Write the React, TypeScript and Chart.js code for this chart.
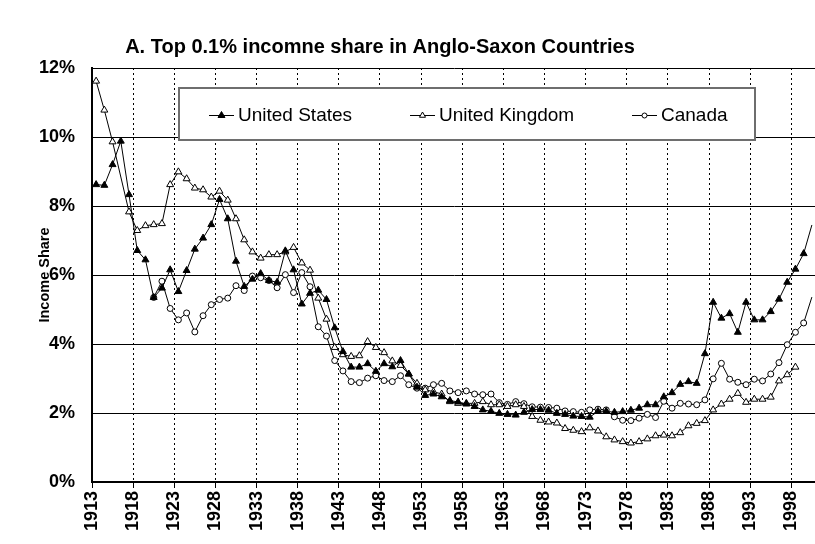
import { useEffect, useRef } from 'react';
import { Chart, registerables } from 'chart.js';

Chart.register(...registerables);

const TITLE = 'A. Top 0.1% incomne share in Anglo-Saxon Countries';
const Y_TITLE = 'Income Share';

const years = [
  1913, 1914, 1915, 1916, 1917, 1918, 1919, 1920, 1921, 1922,
  1923, 1924, 1925, 1926, 1927, 1928, 1929, 1930, 1931, 1932,
  1933, 1934, 1935, 1936, 1937, 1938, 1939, 1940, 1941, 1942,
  1943, 1944, 1945, 1946, 1947, 1948, 1949, 1950, 1951, 1952,
  1953, 1954, 1955, 1956, 1957, 1958, 1959, 1960, 1961, 1962,
  1963, 1964, 1965, 1966, 1967, 1968, 1969, 1970, 1971, 1972,
  1973, 1974, 1975, 1976, 1977, 1978, 1979, 1980, 1981, 1982,
  1983, 1984, 1985, 1986, 1987, 1988, 1989, 1990, 1991, 1992,
  1993, 1994, 1995, 1996, 1997, 1998, 1999, 2000,
];

const tickYears = [
  1913, 1918, 1923, 1928, 1933, 1938, 1943, 1948, 1953, 1958,
  1963, 1968, 1973, 1978, 1983, 1988, 1993, 1998,
];

const yTicks = [0, 2, 4, 6, 8, 10, 12];

const usShare = [
  8.62, 8.60, 9.20, 9.88, 8.33, 6.71, 6.44, 5.35, 5.62, 6.15,
  5.52, 6.13, 6.75, 7.07, 7.46, 8.19, 7.63, 6.40, 5.67, 5.88,
  6.04, 5.84, 5.79, 6.70, 6.15, 5.16, 5.47, 5.56, 5.29, 4.47,
  3.78, 3.33, 3.33, 3.43, 3.21, 3.43, 3.34, 3.52, 3.13, 2.75,
  2.51, 2.55, 2.47, 2.36, 2.32, 2.26, 2.19, 2.09, 2.05, 1.99,
  1.96, 1.94, 2.02, 2.10, 2.10, 2.08, 1.99, 1.96, 1.91, 1.90,
  1.88, 2.05, 2.05, 2.02, 2.04, 2.08, 2.14, 2.24, 2.24, 2.47,
  2.59, 2.83, 2.91, 2.86, 3.72, 5.21, 4.75, 4.88, 4.34, 5.21,
  4.70, 4.70, 4.94, 5.30, 5.79, 6.17, 6.62, 7.45,
];

const ukShare = [
  11.62, 10.78, 9.86, null, 7.83, 7.29, 7.43, 7.46, 7.49, 8.62,
  8.99, 8.79, 8.52, 8.47, 8.26, 8.43, 8.17, 7.63, 7.02, 6.67,
  6.49, 6.59, 6.59, 6.67, 6.80, 6.35, 6.14, 5.33, 4.72, 3.90,
  3.69, 3.64, 3.66, 4.07, 3.90, 3.75, 3.51, 3.38, 3.13, 2.86,
  2.67, 2.62, 2.55, 2.33, 2.28, 2.28, 2.28, 2.33, 2.24, 2.24,
  2.19, 2.24, 2.19, 1.90, 1.79, 1.74, 1.71, 1.55, 1.50, 1.46,
  1.57, 1.48, 1.31, 1.22, 1.17, 1.13, 1.17, 1.25, 1.34, 1.36,
  1.34, 1.43, 1.63, 1.70, 1.78, 2.09, 2.26, 2.40, 2.57, 2.31,
  2.40, 2.40, 2.46, 2.93, 3.11, 3.33, null, null,
];

const caShare = [
  null, null, null, null, null, null, null, 5.35, 5.82, 5.03,
  4.70, 4.90, 4.35, 4.82, 5.14, 5.29, 5.33, 5.69, 5.55, 5.97,
  5.92, 5.84, 5.63, 6.01, 5.49, 6.07, 5.66, 4.50, 4.23, 3.52,
  3.22, 2.91, 2.88, 3.01, 3.08, 2.94, 2.91, 3.08, 2.82, 2.72,
  2.72, 2.82, 2.86, 2.64, 2.59, 2.64, 2.55, 2.53, 2.55, 2.30,
  2.25, 2.33, 2.27, 2.18, 2.17, 2.16, 2.14, 2.06, 2.04, 2.02,
  2.09, 2.11, 2.09, 1.89, 1.79, 1.78, 1.85, 1.96, 1.87, 2.34,
  2.14, 2.28, 2.26, 2.24, 2.38, 2.99, 3.44, 2.98, 2.89, 2.82,
  2.98, 2.93, 3.13, 3.46, 3.98, 4.34, 4.61, 5.36,
];

const seriesLabels = ['United States', 'United Kingdom', 'Canada'];

const FONT = '"Liberation Sans", Arial, Helvetica, sans-serif';

function toPoints(values: (number | null)[]) {
  return years.map((yr, i) => ({ x: yr, y: values[i] }));
}

function drawMarker(ctx: CanvasRenderingContext2D, kind: string, x: number, y: number, r: number, fill: string) {
  ctx.beginPath();
  if (kind === 'triangle') {
    for (let k = 0; k < 3; k++) {
      const a = (k * 2 * Math.PI) / 3;
      const px = x + Math.sin(a) * r;
      const py = y - Math.cos(a) * r;
      if (k === 0) ctx.moveTo(px, py);
      else ctx.lineTo(px, py);
    }
    ctx.closePath();
  } else {
    ctx.arc(x, y, r, 0, Math.PI * 2);
  }
  ctx.fillStyle = fill;
  ctx.fill();
  ctx.strokeStyle = '#000';
  ctx.lineWidth = 1;
  ctx.stroke();
}

const decorPlugin = {
  id: 'decor',
  afterDraw(chart: any) {
    const ctx: CanvasRenderingContext2D = chart.ctx;
    ctx.save();
    ctx.fillStyle = '#000';
    ctx.textAlign = 'center';
    ctx.textBaseline = 'middle';
    ctx.font = `bold 20px ${FONT}`;
    ctx.fillText(TITLE, 380, 47);

    ctx.save();
    ctx.translate(45, 275);
    ctx.rotate(-Math.PI / 2);
    ctx.font = `bold 14.5px ${FONT}`;
    ctx.fillText(Y_TITLE, 0, 0);
    ctx.restore();

    // legend box
    ctx.fillStyle = '#fff';
    ctx.fillRect(179, 88, 576, 52);
    ctx.strokeStyle = '#6e6e6e';
    ctx.lineWidth = 2;
    ctx.strokeRect(179, 88, 576, 52);

    const items = [
      { label: seriesLabels[0], x: 209, kind: 'triangle', fill: '#000', r: 4 },
      { label: seriesLabels[1], x: 410, kind: 'triangle', fill: '#fff', r: 3.5 },
      { label: seriesLabels[2], x: 632, kind: 'circle', fill: '#fff', r: 2.5 },
    ];
    const ly = 115;
    items.forEach((it) => {
      ctx.strokeStyle = '#000';
      ctx.lineWidth = 1;
      ctx.beginPath();
      ctx.moveTo(it.x, ly + 0.5);
      ctx.lineTo(it.x + 25, ly + 0.5);
      ctx.stroke();
      drawMarker(ctx, it.kind, it.x + 12.5, ly + 0.5, it.r, it.fill);
      ctx.fillStyle = '#000';
      ctx.font = `19px ${FONT}`;
      ctx.textAlign = 'left';
      ctx.textBaseline = 'middle';
      ctx.fillText(it.label, it.x + 29, ly + 1);
    });
    ctx.restore();
  },
};

export default function App() {
  const canvasRef = useRef<HTMLCanvasElement | null>(null);

  useEffect(() => {
    const canvas = canvasRef.current;
    if (!canvas) return;
    const tickFont = { family: FONT, size: 18, weight: 'bold' as const };
    const lastYear = years[years.length - 1];
    const radiusFor = (r: number) => (c: any) => (c.raw && c.raw.x >= lastYear ? 0 : r);
    const chart = new Chart(canvas, {
      type: 'line',
      data: {
        datasets: [
          {
            label: seriesLabels[0],
            data: toPoints(usShare),
            borderColor: '#000',
            borderWidth: 1,
            pointStyle: 'triangle',
            pointRadius: radiusFor(4),
            pointBackgroundColor: '#000',
            pointBorderColor: '#000',
            pointBorderWidth: 1,
            spanGaps: true,
            order: 1,
          },
          {
            label: seriesLabels[1],
            data: toPoints(ukShare),
            borderColor: '#000',
            borderWidth: 1,
            pointStyle: 'triangle',
            pointRadius: radiusFor(4),
            pointBackgroundColor: '#fff',
            pointBorderColor: '#000',
            pointBorderWidth: 1,
            spanGaps: true,
            order: 2,
          },
          {
            label: seriesLabels[2],
            data: toPoints(caShare),
            borderColor: '#000',
            borderWidth: 1,
            pointStyle: 'circle',
            pointRadius: radiusFor(3),
            pointBackgroundColor: '#fff',
            pointBorderColor: '#000',
            pointBorderWidth: 1,
            spanGaps: false,
            order: 3,
          },
        ],
      },
      options: {
        responsive: false,
        animation: false,
        layout: { padding: { top: 68, left: 0, right: 0, bottom: 0 } },
        plugins: {
          legend: { display: false },
          tooltip: { enabled: false },
          title: { display: false },
        },
        scales: {
          x: {
            type: 'linear',
            min: tickYears[0] - 0.5,
            max: lastYear + 0.5,
            afterBuildTicks: (s: any) => {
              s.ticks = tickYears.map((v) => ({ value: v - 0.5 }));
            },
            afterFit: (s: any) => {
              s.height = 62;
            },
            ticks: {
              autoSkip: false,
              minRotation: 90,
              maxRotation: 90,
              padding: 3,
              color: '#000',
              font: tickFont,
              callback: (v: any) => String(Math.round(Number(v) + 0.5)),
            },
            grid: {
              color: (c: any) => (c.index === 0 ? 'rgba(0,0,0,0)' : '#000'),
              lineWidth: 1,
              tickColor: '#000',
              tickLength: 6,
              drawTicks: true,
            },
            border: { color: '#000', width: 2, dash: [2, 3] },
          },
          y: {
            min: yTicks[0],
            max: yTicks[yTicks.length - 1],
            afterBuildTicks: (s: any) => {
              s.ticks = yTicks.map((v) => ({ value: v }));
            },
            afterFit: (s: any) => {
              s.width = 92;
            },
            ticks: {
              padding: 17,
              color: '#000',
              font: tickFont,
              callback: (v: any) => `${v}%`,
            },
            grid: { color: '#000', lineWidth: 1, drawTicks: false },
            border: { color: '#000', width: 2 },
          },
        },
      },
      plugins: [decorPlugin],
    } as any);
    return () => chart.destroy();
  }, []);

  return (
    <div
      style={{
        position: 'fixed',
        left: 0,
        top: 0,
        width: 815,
        height: 544,
        overflow: 'hidden',
        background: '#fff',
      }}
    >
      <canvas ref={canvasRef} width={821} height={544} style={{ display: 'block' }} />
    </div>
  );
}
